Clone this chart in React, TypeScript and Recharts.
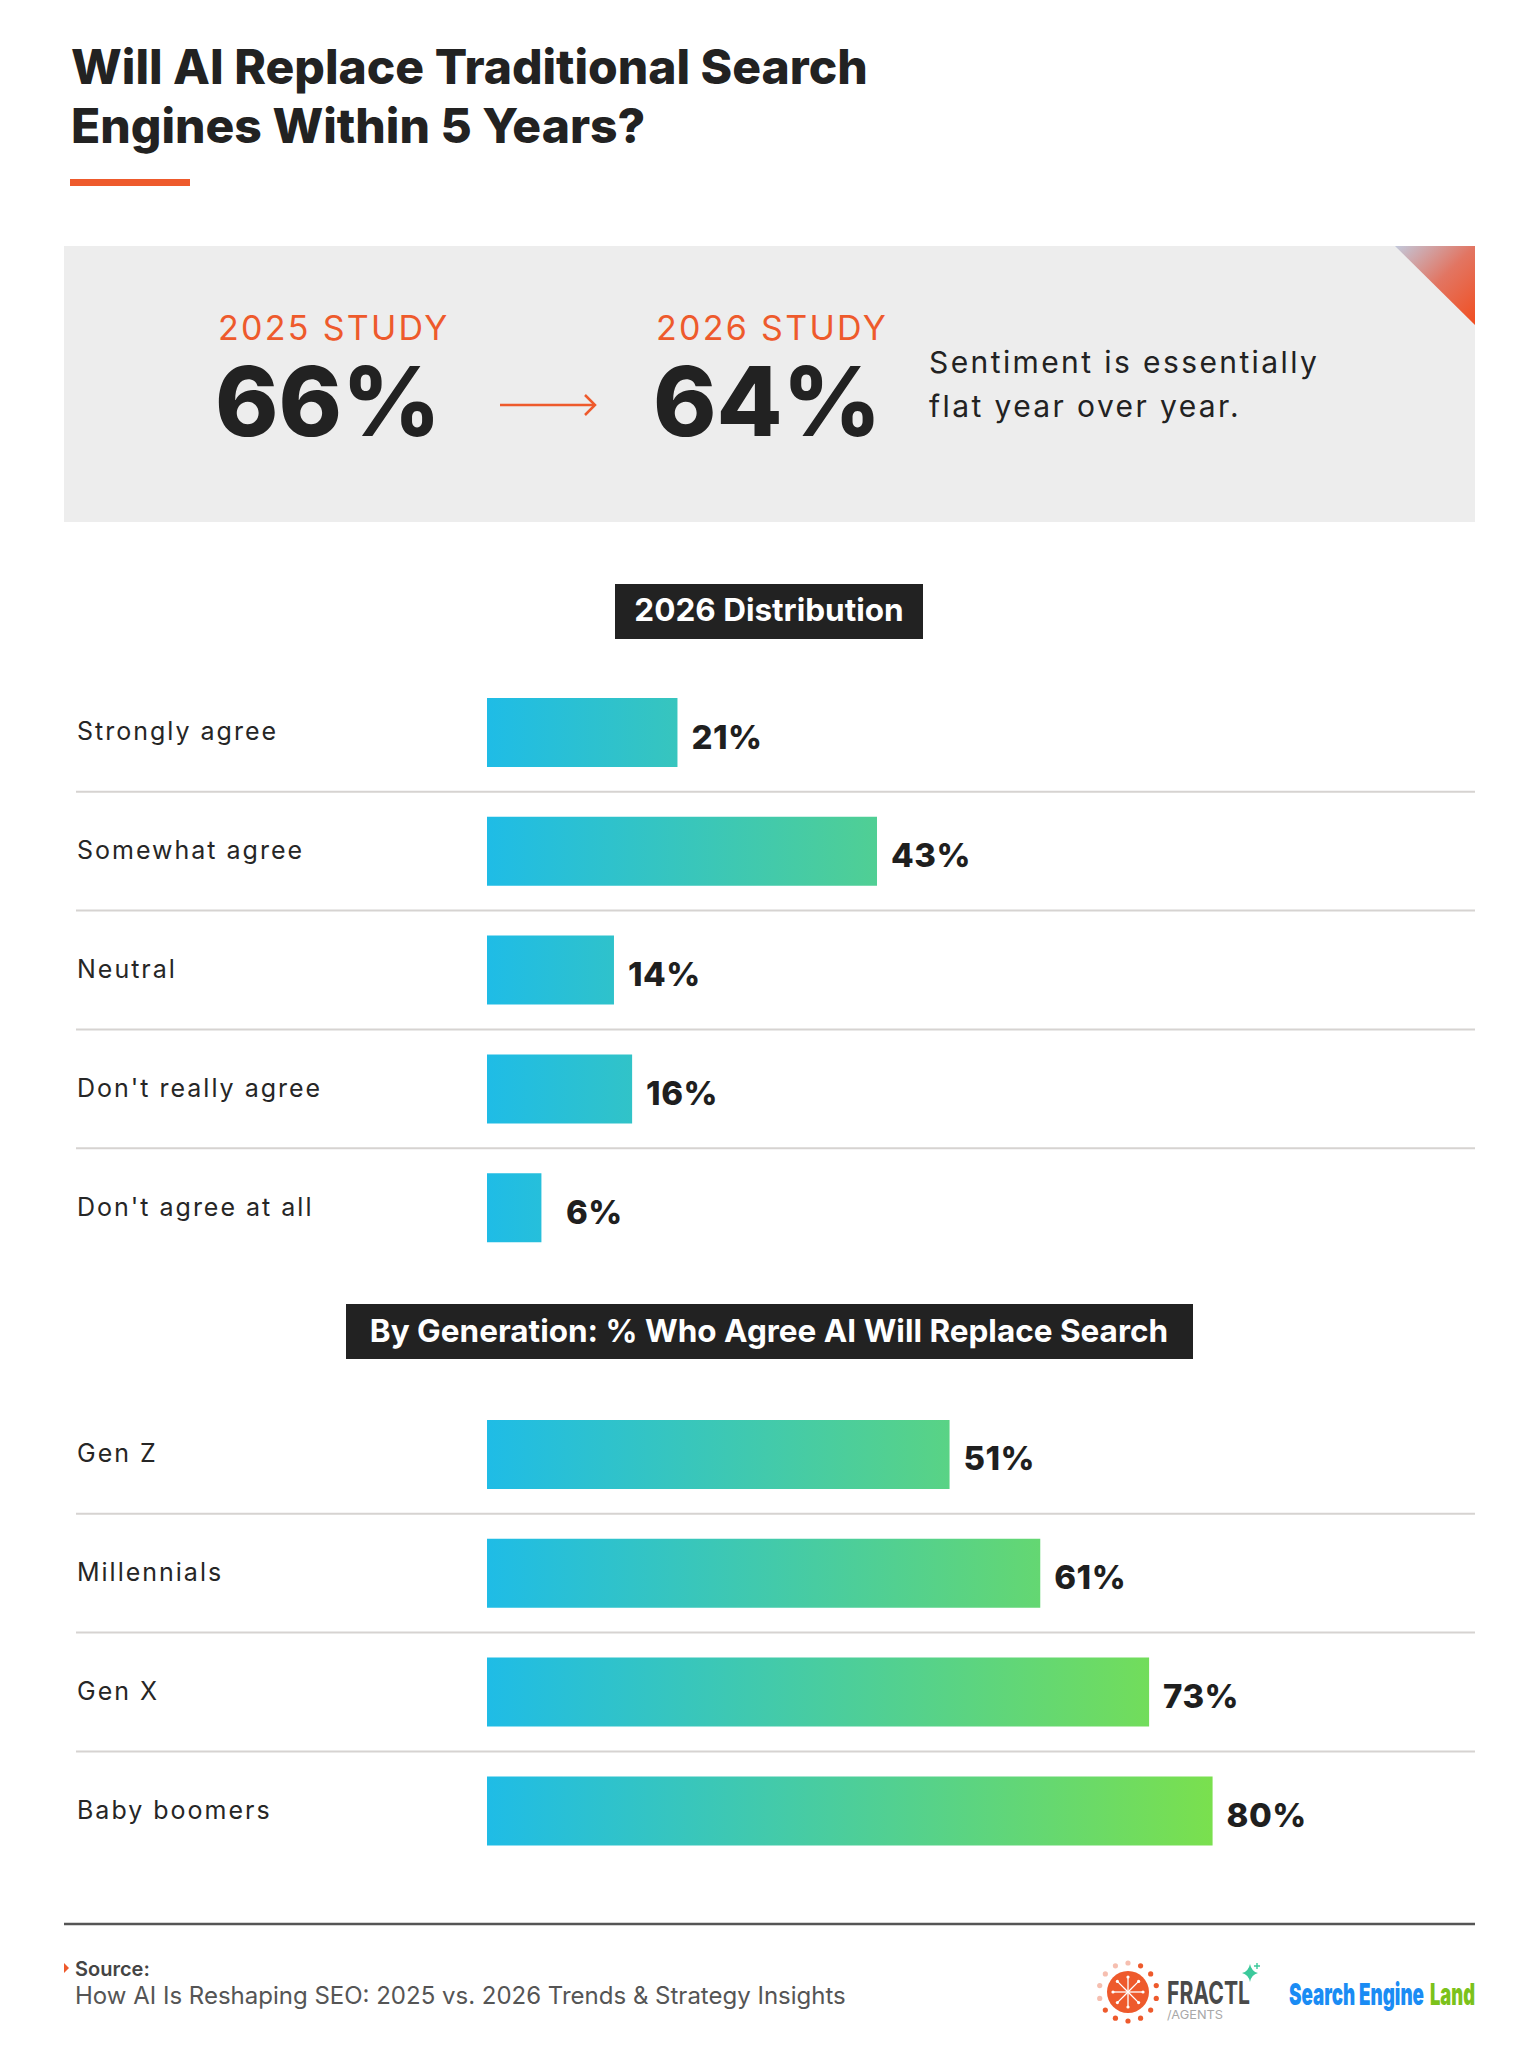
import React from "react";
import { BarChart, Bar, XAxis, YAxis, Cell, LabelList } from "recharts";

// ---- data ----
const distributionCategories = [
  "Strongly agree",
  "Somewhat agree",
  "Neutral",
  "Don't really agree",
  "Don't agree at all",
];
const distributionValues = [21, 43, 14, 16, 6];

const generationCategories = ["Gen Z", "Millennials", "Gen X", "Baby boomers"];
const generationValues = [51, 61, 73, 80];

const studyLabels = ["2025 STUDY", "2026 STUDY"];
const studyValues = [66, 64];

const valueDomain: [number, number] = [0, 100];

// ---- style / layout ----
const ORANGE = "#EE5A2C";
const INK = "#222222";
const FONT = "Inter, 'Open Sans', sans-serif";

const PAGE_W = 1539;
const PAGE_H = 2048;
const PLOT_LEFT = 487;
const PLOT_W = 907;
const ROW_H = 118.8;
const BAR_H = 69;
const LABEL_X = 77;
const RULE_LEFT = 76;
const RULE_RIGHT = 1475;

// bar gradient: cyan at zero, reaching lime green at GRADIENT_FULL percent
const GRADIENT_FULL = 80;
const BAR_START = [31, 188, 230];
const BAR_END = [122, 224, 78];

const mixColor = (t: number) => {
  const c = BAR_START.map((s, k) => Math.round(s + (BAR_END[k] - s) * t));
  return `rgb(${c[0]},${c[1]},${c[2]})`;
};

function BarGradients({ id, values }: { id: string; values: number[] }) {
  return (
    <>
      {values.map((v, i) => (
        <linearGradient key={i} id={`${id}-${i}`} x1="0" y1="0" x2="1" y2="0">
          <stop offset="0" stopColor={mixColor(0)} />
          <stop offset="1" stopColor={mixColor(Math.min(v / GRADIENT_FULL, 1))} />
        </linearGradient>
      ))}
    </>
  );
}

function RowTick(props: any) {
  const { y, payload, index, count } = props;
  return (
    <g>
      <text
        x={LABEL_X}
        y={y + 8}
        fontFamily={FONT}
        fontSize={25}
        fill="#262626"
        style={{ letterSpacing: "2px" }}
      >
        {payload.value}
      </text>
      {index < count - 1 && (
        <line
          x1={RULE_LEFT}
          x2={RULE_RIGHT}
          y1={y + ROW_H / 2}
          y2={y + ROW_H / 2}
          stroke="#D6D3D1"
          strokeWidth={2}
        />
      )}
    </g>
  );
}

function ValueLabel(props: any) {
  const { x, y, width, height, value } = props;
  const left = Number(x);
  const tx = Math.max(left + Number(width) + 14, left + 79);
  return (
    <text
      x={tx}
      y={Number(y) + Number(height) / 2 + 16}
      fontFamily={FONT}
      fontWeight={800}
      fontSize={33}
      fill="#1F1F1F"
      style={{ letterSpacing: "0.5px" }}
    >
      {`${value}%`}
    </text>
  );
}

function RowChart({
  id,
  categories,
  values,
  top,
}: {
  id: string;
  categories: string[];
  values: number[];
  top: number;
}) {
  const data = categories.map((name, i) => ({ name, value: values[i] }));
  const height = ROW_H * categories.length;
  return (
    <div style={{ position: "absolute", left: 0, top, width: PAGE_W, height }}>
      <BarChart
        width={PAGE_W}
        height={height}
        data={data}
        layout="vertical"
        margin={{ top: 0, right: PAGE_W - PLOT_LEFT - PLOT_W, bottom: 0, left: 0 }}
        barCategoryGap={0}
      >
        <XAxis type="number" domain={valueDomain} hide />
        <YAxis
          type="category"
          dataKey="name"
          width={PLOT_LEFT}
          axisLine={false}
          tickLine={false}
          interval={0}
          tick={(p: any) => <RowTick {...p} count={categories.length} />}
        />
        <Bar dataKey="value" barSize={BAR_H} isAnimationActive={false}>
          {data.map((_, i) => (
            <Cell key={i} fill={`url(#${id}-${i})`} />
          ))}
          <LabelList dataKey="value" content={(p: any) => <ValueLabel {...p} />} />
        </Bar>
      </BarChart>
    </div>
  );
}

function FractlLogo() {
  const cx = 1128;
  const cy = 1992;
  const dots = Array.from({ length: 14 }, (_, i) => i);
  const spokes = Array.from({ length: 8 }, (_, i) => i);
  return (
    <g>
      {dots.map((i) => {
        const a = (i / 14) * Math.PI * 2 - Math.PI / 2;
        const faded = i >= 10 || i === 0;
        return (
          <circle
            key={i}
            cx={cx + Math.cos(a) * 29}
            cy={cy + Math.sin(a) * 29}
            r={2.6}
            fill={faded ? "#F6BFB0" : ORANGE}
          />
        );
      })}
      <circle cx={cx} cy={cy} r={21} fill={ORANGE} />
      {spokes.map((i) => {
        const a = (i / 8) * Math.PI * 2;
        return (
          <g key={i}>
            <line
              x1={cx}
              y1={cy}
              x2={cx + Math.cos(a) * 15}
              y2={cy + Math.sin(a) * 15}
              stroke="#fff"
              strokeWidth={1.3}
            />
            <circle cx={cx + Math.cos(a) * 15} cy={cy + Math.sin(a) * 15} r={1.6} fill="#fff" />
          </g>
        );
      })}
      <text
        x={1167}
        y={2004}
        fontFamily={FONT}
        fontWeight={700}
        fontSize={31}
        fill="#4A4A4A"
        textLength={83}
        lengthAdjust="spacingAndGlyphs"
      >
        FRACTL
      </text>
      <text
        x={1167}
        y={2019}
        fontFamily={FONT}
        fontSize={12}
        fill="#A8A8A8"
        textLength={56}
        lengthAdjust="spacingAndGlyphs"
      >
        /AGENTS
      </text>
      <path
        d="M1250 1964 Q1251.5 1971.5 1258 1973 Q1251.5 1974.5 1250 1982 Q1248.5 1974.5 1242 1973 Q1248.5 1971.5 1250 1964 Z"
        fill="#3CC99B"
      />
      <path d="M1257 1963 v6 M1254 1966 h6" stroke="#3CC99B" strokeWidth={1.4} />
    </g>
  );
}

function SearchEngineLandLogo() {
  return (
    <g fontFamily={FONT} fontWeight={900} fontSize={30}>
      <text x={1289} y={2005} fill="#1A8CF4" textLength={135} lengthAdjust="spacingAndGlyphs">
        Search Engine
      </text>
      <text x={1430} y={2005} fill="#7CC21B" textLength={45} lengthAdjust="spacingAndGlyphs">
        Land
      </text>
    </g>
  );
}

function Backdrop() {
  const studyX = [218, 656];
  return (
    <svg
      width={PAGE_W}
      height={PAGE_H}
      style={{ position: "absolute", left: 0, top: 0 }}
    >
      <defs>
        <BarGradients id="dist" values={distributionValues} />
        <BarGradients id="gen" values={generationValues} />
        <linearGradient id="corner" x1="0" y1="0" x2="1" y2="1">
          <stop offset="0" stopColor="#C2C9DC" />
          <stop offset="0.5" stopColor="#E27562" />
          <stop offset="1" stopColor="#F14E20" />
        </linearGradient>
      </defs>

      {/* title */}
      <g fontFamily={FONT} fontWeight={800} fontSize={48} fill={INK}>
        <text x={71} y={84}>Will AI Replace Traditional Search</text>
        <text x={71} y={143}>Engines Within 5 Years?</text>
      </g>
      <rect x={70} y={179} width={120} height={7} fill={ORANGE} />

      {/* headline comparison */}
      <rect x={64} y={246} width={1411} height={276} fill="#EDEDED" />
      <polygon points="1395,246 1475,246 1475,325" fill="url(#corner)" />
      {studyLabels.map((label, i) => (
        <g key={label}>
          <text
            x={studyX[i]}
            y={340}
            fontFamily={FONT}
            fontSize={34}
            fill={ORANGE}
            style={{ letterSpacing: "2.3px" }}
          >
            {label}
          </text>
          <text
            x={studyX[i] - 3}
            y={436}
            fontFamily={FONT}
            fontWeight={800}
            fontSize={96}
            fill={INK}
            style={{ letterSpacing: "0px" }}
          >
            {`${studyValues[i]}%`}
          </text>
        </g>
      ))}
      <g stroke={ORANGE} strokeWidth={2.5} fill="none">
        <line x1={500} y1={405} x2={595} y2={405} />
        <polyline points="585,395 595,405 585,415" />
      </g>
      <g fontFamily={FONT} fontSize={30} fill={INK} style={{ letterSpacing: "2.4px" }}>
        <text x={929} y={373}>Sentiment is essentially</text>
        <text x={929} y={417}>flat year over year.</text>
      </g>

      {/* section badges */}
      <rect x={615} y={584} width={308} height={55} fill={INK} />
      <text
        x={769}
        y={621}
        textAnchor="middle"
        fontFamily={FONT}
        fontWeight={700}
        fontSize={31.5}
        fill="#fff"
      >
        2026 Distribution
      </text>
      <rect x={346} y={1304} width={847} height={55} fill={INK} />
      <text
        x={769}
        y={1342}
        textAnchor="middle"
        fontFamily={FONT}
        fontWeight={700}
        fontSize={31.5}
        fill="#fff"
      >
        By Generation: % Who Agree AI Will Replace Search
      </text>

      {/* footer */}
      <line x1={64} x2={1475} y1={1924} y2={1924} stroke="#555" strokeWidth={2.5} />
      <polygon points="64,1963 69,1968 64,1973" fill={ORANGE} />
      <text x={75} y={1976} fontFamily={FONT} fontWeight={600} fontSize={20} fill="#444">
        Source:
      </text>
      <text x={75} y={2004} fontFamily={FONT} fontSize={24} fill="#555">
        How AI Is Reshaping SEO: 2025 vs. 2026 Trends &amp; Strategy Insights
      </text>
      <FractlLogo />
      <SearchEngineLandLogo />
    </svg>
  );
}

export default function App() {
  return (
    <div
      style={{
        position: "absolute",
        left: 0,
        top: 0,
        width: PAGE_W,
        height: PAGE_H,
        background: "#fff",
        overflow: "hidden",
      }}
    >
      <Backdrop />
      <RowChart
        id="dist"
        categories={distributionCategories}
        values={distributionValues}
        top={673}
      />
      <RowChart
        id="gen"
        categories={generationCategories}
        values={generationValues}
        top={1395}
      />
    </div>
  );
}
